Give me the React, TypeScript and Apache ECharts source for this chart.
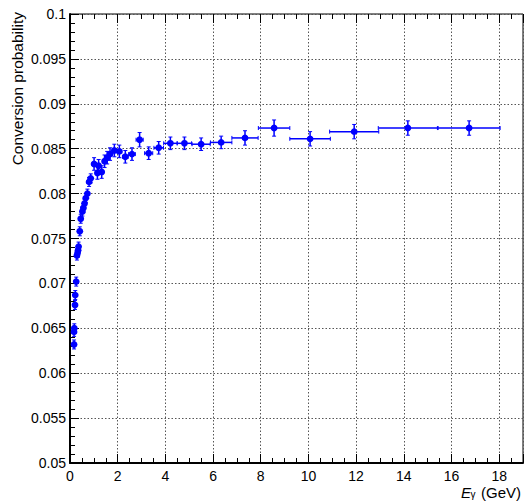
import React, { useEffect, useRef } from "react";
import * as echarts from "echarts";

// Photon energy bin centres (GeV)
const energies = [
  0.17, 0.17, 0.18, 0.21, 0.22, 0.26, 0.29, 0.32, 0.34, 0.36,
  0.41, 0.45, 0.52, 0.56, 0.61, 0.66, 0.73, 0.80, 0.87, 1.01,
  1.15, 1.20, 1.33, 1.45, 1.56, 1.68, 1.86, 2.07, 2.32, 2.60,
  2.92, 3.30, 3.72, 4.21, 4.80, 5.50, 6.34, 7.34, 8.56, 10.07,
  11.92, 14.17, 16.74,
];
// Conversion probability per bin
const probabilities = [
  0.0632, 0.0646, 0.0650, 0.0676, 0.0687, 0.0702, 0.0731, 0.0734, 0.0737, 0.0741,
  0.0758, 0.0772, 0.0780, 0.0784, 0.0789, 0.0795, 0.0800, 0.0813, 0.0817, 0.0833,
  0.0823, 0.0831, 0.0824, 0.0836, 0.0840, 0.0844, 0.0848, 0.0847, 0.0841, 0.0844,
  0.0860, 0.0845, 0.0851, 0.0856, 0.0856, 0.0855, 0.0857, 0.0862, 0.0873, 0.0861,
  0.0869, 0.0873, 0.0873,
];
// Half bin widths (GeV)
const energyHalfWidths = [
  0.02, 0.02, 0.02, 0.02, 0.02, 0.02, 0.02, 0.02, 0.02, 0.02,
  0.025, 0.025, 0.03, 0.03, 0.03, 0.035, 0.04, 0.04, 0.045, 0.05,
  0.06, 0.06, 0.07, 0.07, 0.08, 0.08, 0.09, 0.10, 0.12, 0.14,
  0.15, 0.17, 0.20, 0.28, 0.30, 0.38, 0.45, 0.55, 0.66, 0.85,
  1.03, 1.24, 1.30,
];
// Statistical errors on probability
const probErrors = [
  0.0005, 0.0005, 0.0005, 0.0005, 0.0005, 0.0005, 0.0005, 0.0005, 0.0005, 0.0005,
  0.0005, 0.0005, 0.0005, 0.0005, 0.0005, 0.0005, 0.0005, 0.0005, 0.0005, 0.0007,
  0.0007, 0.0007, 0.0007, 0.0007, 0.0007, 0.0007, 0.0007, 0.0007, 0.0007, 0.0007,
  0.0008, 0.0007, 0.0007, 0.0007, 0.0007, 0.0007, 0.0007, 0.0008, 0.0009, 0.0008,
  0.0008, 0.0008, 0.0008,
];

const xTickLabels = ["0", "2", "4", "6", "8", "10", "12", "14", "16", "18"];

const FONT = "'Liberation Sans', Arial, Helvetica, sans-serif";
const BLUE = "#0000ff";

export default function App() {
  const ref = useRef<HTMLDivElement>(null);

  useEffect(() => {
    if (!ref.current) return;
    const chart = echarts.init(ref.current, undefined, { renderer: "svg" });
    const data = energies.map((e, i) => [e, probabilities[i], energyHalfWidths[i], probErrors[i]]);

    const option: any = {
      animation: false,
      backgroundColor: "#ffffff",
      grid: {
        left: 70,
        right: 1,
        top: 14,
        bottom: 38,
        show: true,
        borderColor: "#000",
        borderWidth: 1,
        backgroundColor: "transparent",
      },
      xAxis: [
        {
          type: "value",
          min: 0,
          max: 19,
          interval: 2,
          position: "bottom",
          axisLine: { show: true, onZero: false, lineStyle: { color: "#000", width: 2 } },
          axisTick: { show: true, inside: true, length: 9, lineStyle: { color: "#000", width: 1 } },
          minorTick: { show: true, splitNumber: 4, length: 5, lineStyle: { color: "#000", width: 1 } },
          axisLabel: {
            show: true,
            margin: 6,
            color: "#000",
            fontFamily: FONT,
            fontSize: 14,
            showMaxLabel: false,
            formatter: (v: number) => {
              const s = String(Math.round(v));
              return xTickLabels.includes(s) ? s : "";
            },
          },
          splitLine: { show: true, lineStyle: { color: "#555", type: [1.5, 2], width: 1 } },
        },
        {
          type: "value",
          min: 0,
          max: 19,
          interval: 2,
          position: "top",
          axisLine: { show: false },
          axisTick: { show: true, inside: true, length: 9, lineStyle: { color: "#000", width: 1 } },
          minorTick: { show: true, splitNumber: 4, length: 5, lineStyle: { color: "#000", width: 1 } },
          axisLabel: { show: false },
          splitLine: { show: false },
        },
      ],
      yAxis: {
        type: "value",
        min: 0.05,
        max: 0.1,
        interval: 0.005,
        axisLine: { show: true, onZero: false, lineStyle: { color: "#000", width: 2 } },
        axisTick: { show: true, inside: true, length: 9, lineStyle: { color: "#000", width: 1 } },
        minorTick: { show: true, splitNumber: 5, length: 5, lineStyle: { color: "#000", width: 1 } },
        axisLabel: {
          margin: 4,
          color: "#000",
          fontFamily: FONT,
          fontSize: 14,
          formatter: (v: number) => String(parseFloat(v.toFixed(3))),
        },
        splitLine: { show: true, lineStyle: { color: "#555", type: [1.5, 2], width: 1 } },
      },
      series: [
        {
          type: "custom",
          xAxisIndex: 0,
          yAxisIndex: 0,
          clip: true,
          data,
          encode: { x: 0, y: 1 },
          renderItem: (params: any, api: any) => {
            const E = api.value(0);
            const P = api.value(1);
            const dx = api.value(2);
            const dy = api.value(3);
            const c = api.coord([E, P]);
            const l = api.coord([E - dx, P]);
            const r = api.coord([E + dx, P]);
            const t = api.coord([E, P + dy]);
            const b = api.coord([E, P - dy]);
            const st = { stroke: BLUE, lineWidth: 1.5 };
            const cap = 2;
            return {
              type: "group",
              children: [
                { type: "line", shape: { x1: l[0], y1: c[1], x2: r[0], y2: c[1] }, style: st },
                { type: "line", shape: { x1: c[0], y1: t[1], x2: c[0], y2: b[1] }, style: st },
                { type: "line", shape: { x1: l[0], y1: c[1] - cap, x2: l[0], y2: c[1] + cap }, style: { stroke: BLUE, lineWidth: 1 } },
                { type: "line", shape: { x1: r[0], y1: c[1] - cap, x2: r[0], y2: c[1] + cap }, style: { stroke: BLUE, lineWidth: 1 } },
                { type: "line", shape: { x1: c[0] - cap, y1: t[1], x2: c[0] + cap, y2: t[1] }, style: { stroke: BLUE, lineWidth: 1 } },
                { type: "line", shape: { x1: c[0] - cap, y1: b[1], x2: c[0] + cap, y2: b[1] }, style: { stroke: BLUE, lineWidth: 1 } },
                { type: "circle", shape: { cx: c[0], cy: c[1], r: 3.4 }, style: { fill: BLUE } },
              ],
            };
          },
        },
      ],
      graphic: [
        {
          type: "text",
          x: 17,
          y: 12,
          rotation: Math.PI / 2,
          style: {
            text: "Conversion probability",
            fontFamily: FONT,
            fontSize: 15.5,
            fill: "#000",
            align: "right",
            verticalAlign: "middle",
          },
        },
        {
          type: "text",
          x: 461,
          y: 492,
          style: { text: "E", fontFamily: FONT, fontSize: 15, fontStyle: "italic", fill: "#000", align: "left", verticalAlign: "middle" },
        },
        {
          type: "text",
          x: 470.5,
          y: 494.5,
          style: { text: "γ", fontFamily: FONT, fontSize: 10, fill: "#000", align: "left", verticalAlign: "middle" },
        },
        {
          type: "text",
          x: 521,
          y: 492,
          style: { text: "(GeV)", fontFamily: FONT, fontSize: 15, fill: "#000", align: "right", verticalAlign: "middle" },
        },
      ],
    };

    chart.setOption(option);
    return () => chart.dispose();
  }, []);

  return (
    <div
      ref={ref}
      style={{ position: "fixed", left: 0, top: 0, width: 524, height: 501, background: "#fff" }}
    />
  );
}
